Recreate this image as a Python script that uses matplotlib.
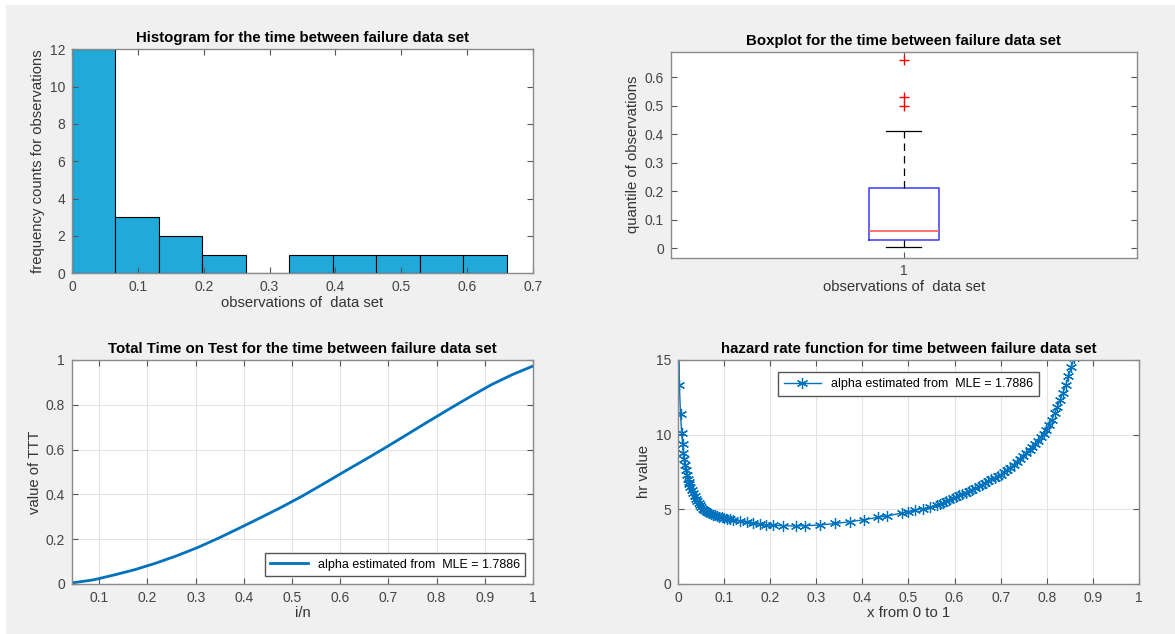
import numpy as np
import matplotlib.pyplot as plt
from matplotlib.ticker import FuncFormatter
from matplotlib.patches import Rectangle

plt.rcParams['font.family'] = ['Liberation Sans', 'DejaVu Sans']

# time between failure observations (sorted)
tbf = [0.005, 0.01, 0.015, 0.02, 0.025, 0.028, 0.032, 0.04, 0.045, 0.05,
       0.055, 0.06, 0.08, 0.10, 0.12, 0.15, 0.19, 0.23, 0.35, 0.41,
       0.50, 0.53, 0.66]
hist_edges = np.linspace(0, 0.66, 11)

# scaled total time on test, one value per i/n
ttt_y = [0.005, 0.018, 0.04, 0.064, 0.093, 0.126, 0.163, 0.205, 0.25, 0.296,
         0.343, 0.393, 0.447, 0.502, 0.556, 0.611, 0.668, 0.725, 0.781, 0.836,
         0.889, 0.934, 0.973]

# hazard rate evaluated on x in (0, 1)
hr_x = [0.001, 0.003, 0.0055, 0.008, 0.010, 0.0115, 0.013, 0.015, 0.017, 0.019,
        0.021, 0.023, 0.025, 0.027, 0.030, 0.033, 0.036, 0.039, 0.042, 0.045,
        0.048, 0.051, 0.054, 0.057, 0.060, 0.064, 0.068, 0.072, 0.076, 0.080,
        0.085, 0.090, 0.095, 0.100, 0.106, 0.113, 0.120, 0.134, 0.149, 0.163,
        0.178, 0.192, 0.207, 0.228, 0.256, 0.275, 0.308, 0.341, 0.373, 0.403,
        0.435, 0.453, 0.485, 0.500, 0.514, 0.532, 0.547, 0.561, 0.568, 0.575,
        0.582, 0.589, 0.596, 0.603, 0.610, 0.617, 0.624, 0.631, 0.638, 0.645,
        0.652, 0.659, 0.666, 0.673, 0.680, 0.687, 0.694, 0.700, 0.707, 0.714,
        0.721, 0.728, 0.735, 0.742, 0.749, 0.756, 0.763, 0.769, 0.775, 0.781,
        0.787, 0.793, 0.799, 0.805, 0.811, 0.817, 0.823, 0.829, 0.835, 0.841,
        0.847, 0.853, 0.859, 0.865, 0.871]
hr_y = [22.0, 13.3, 11.4, 10.1, 9.35, 8.75, 8.35, 7.95, 7.6, 7.3,
        7.05, 6.85, 6.67, 6.5, 6.28, 6.07, 5.88, 5.72, 5.55, 5.4,
        5.27, 5.15, 5.05, 4.97, 4.9, 4.82, 4.75, 4.69, 4.64, 4.6,
        4.55, 4.51, 4.47, 4.43, 4.38, 4.33, 4.29, 4.2, 4.12, 4.06,
        4.0, 3.96, 3.93, 3.9, 3.88, 3.9, 3.95, 4.05, 4.17, 4.3,
        4.47, 4.55, 4.75, 4.85, 4.95, 5.05, 5.13, 5.27, 5.35, 5.44,
        5.53, 5.62, 5.74, 5.85, 5.94, 6.03, 6.12, 6.22, 6.31, 6.41,
        6.53, 6.65, 6.77, 6.89, 7.01, 7.12, 7.22, 7.31, 7.47, 7.63,
        7.8, 7.97, 8.2, 8.38, 8.57, 8.77, 8.97, 9.17, 9.38, 9.6,
        9.82, 10.02, 10.28, 10.62, 11.0, 11.42, 11.88, 12.32, 12.8, 13.3,
        13.9, 14.5, 15.1, 15.8, 16.6]

alpha_mle = 1.7886
leg_label = f'alpha estimated from  MLE = {alpha_mle}'

blue = '#0072BD'
fmt = FuncFormatter(lambda v, p: f'{v:g}')
lab_size = 10.7
tit_size = 10.8


def matlab_axes(ax):
    ax.tick_params(direction='in', length=4, width=0.8, color='#555555',
                   labelcolor='#444444', labelsize=10, top=True, right=True, pad=5)
    for s in ax.spines.values():
        s.set_color('#8a8a8a')
        s.set_linewidth(1.0)
    ax.xaxis.set_major_formatter(fmt)
    ax.yaxis.set_major_formatter(fmt)


fig = plt.figure(figsize=(11.75, 6.34), dpi=100, facecolor='#f0f0f0')
# thin white margin at the top and left of the screenshot
fig.patches.append(Rectangle((0, 1 - 5 / 634), 1, 5 / 634, transform=fig.transFigure,
                             facecolor='white', edgecolor='none'))
fig.patches.append(Rectangle((0, 0), 6 / 1175, 1, transform=fig.transFigure,
                             facecolor='white', edgecolor='none'))

# histogram
ax1 = fig.add_axes([0.0613, 0.5689, 0.3923, 0.3533])
ax1.hist(tbf, bins=hist_edges, color='#21a9d9', edgecolor='black', linewidth=0.8)
ax1.set_xlim(0, 0.7)
ax1.set_ylim(0, 12)
ax1.set_xticks(np.arange(0, 0.71, 0.1))
ax1.set_yticks(np.arange(0, 13, 2))
matlab_axes(ax1)
ax1.set_title('Histogram for the time between failure data set', fontsize=tit_size, fontweight='bold', pad=5)
ax1.set_xlabel('observations of  data set', fontsize=lab_size, color='#333333', labelpad=1)
ax1.set_ylabel('frequency counts for observations', fontsize=lab_size, color='#333333', labelpad=3)

# boxplot
ax2 = fig.add_axes([0.571, 0.5938, 0.3966, 0.3241])
ax2.boxplot(tbf, widths=0.15, whis=1.5,
            boxprops=dict(color='#3a3aff', linewidth=1.1),
            medianprops=dict(color='#ff6464', linewidth=1.3),
            whiskerprops=dict(color='black', linestyle=(0, (6, 4)), linewidth=0.9),
            capprops=dict(color='black', linewidth=0.9),
            flierprops=dict(marker='+', markeredgecolor='red', markersize=7, markeredgewidth=1.0))
ax2.set_xlim(0.5, 1.5)
ax2.set_ylim(-0.032, 0.688)
ax2.set_yticks(np.arange(0, 0.61, 0.1))
matlab_axes(ax2)
ax2.set_xticks([1])
ax2.set_xticklabels(['1'])
ax2.set_title('Boxplot for the time between failure data set', fontsize=tit_size, fontweight='bold', pad=5)
ax2.set_xlabel('observations of  data set', fontsize=lab_size, color='#333333', labelpad=1)
ax2.set_ylabel('quantile of observations', fontsize=lab_size, color='#333333', labelpad=3)

# total time on test
n = len(ttt_y)
ttt_x = [(i + 1) / n for i in range(n)]
ax3 = fig.add_axes([0.0613, 0.0789, 0.3923, 0.3533])
ax3.plot(ttt_x, ttt_y, color=blue, linewidth=2, label=leg_label)
ax3.set_xlim(1 / n, 1)
ax3.set_ylim(0, 1)
ax3.set_xticks(np.arange(0.1, 1.01, 0.1))
ax3.set_yticks(np.arange(0, 1.01, 0.2))
ax3.grid(True, color='#e3e3e3', linewidth=0.8)
ax3.set_axisbelow(True)
matlab_axes(ax3)
ax3.legend(loc='lower right', fontsize=9, fancybox=False, edgecolor='#555555',
           framealpha=1, handlelength=3.0, borderaxespad=0.6, borderpad=0.45)
ax3.set_title('Total Time on Test for the time between failure data set', fontsize=tit_size, fontweight='bold', pad=5)
ax3.set_xlabel('i/n', fontsize=lab_size, color='#333333', labelpad=1)
ax3.set_ylabel('value of TTT', fontsize=lab_size, color='#333333', labelpad=3)

# hazard rate
ax4 = fig.add_axes([0.577, 0.0789, 0.3923, 0.3533])
ax4.plot(hr_x, hr_y, color=blue, linewidth=1, marker=(6, 2, 0), markersize=8,
         markeredgewidth=0.9, label=leg_label)
ax4.set_xlim(0, 1)
ax4.set_ylim(0, 15)
ax4.set_xticks(np.arange(0, 1.01, 0.1))
ax4.set_yticks([0, 5, 10, 15])
ax4.grid(True, color='#e3e3e3', linewidth=0.8)
ax4.set_axisbelow(True)
matlab_axes(ax4)
ax4.legend(loc='upper center', bbox_to_anchor=(0.5, 0.945), fontsize=9, fancybox=False,
           edgecolor='#555555', framealpha=1, handlelength=3.0, borderaxespad=0, borderpad=0.45)
ax4.set_title('hazard rate function for time between failure data set', fontsize=tit_size, fontweight='bold', pad=5)
ax4.set_xlabel('x from 0 to 1', fontsize=lab_size, color='#333333', labelpad=1)
ax4.set_ylabel('hr value', fontsize=lab_size, color='#333333', labelpad=3)

fig.savefig('out.png', dpi=100, facecolor=fig.get_facecolor())
